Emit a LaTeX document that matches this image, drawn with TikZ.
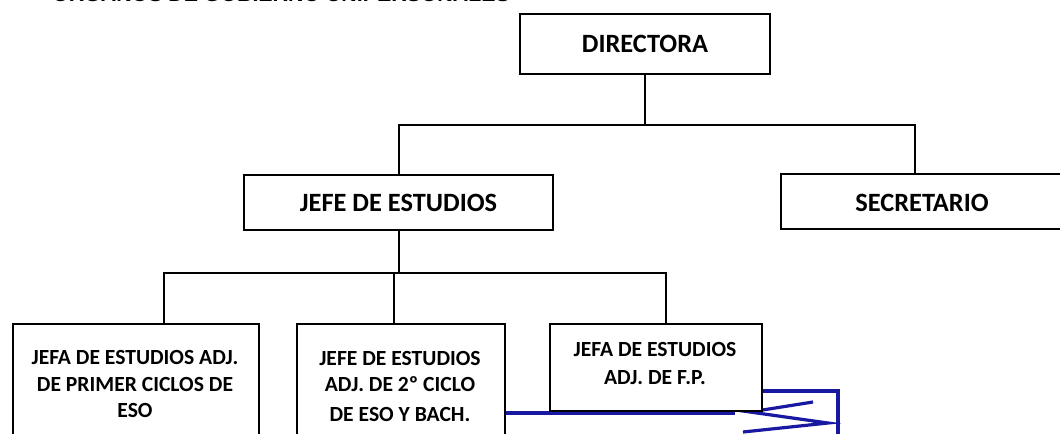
\documentclass[tikz,border=0pt]{standalone}
\usepackage{fontspec}
\setmainfont{Carlito}
\newfontfamily\titlefont{Liberation Sans}
\definecolor{navyline}{RGB}{24,24,160}
\tikzset{
  orgbox/.style={draw=black, fill=white, line width=1.5pt, inner sep=0pt, anchor=north west},
  bigtext/.style={font=\bfseries\fontsize{19.8}{24}\selectfont},
  smalltext/.style={font=\bfseries\fontsize{16.2}{20}\selectfont, align=center},
  link/.style={draw=black, line width=1.5pt},
  blueline/.style={draw=navyline, line width=2.4pt}
}
\begin{document}
\begin{tikzpicture}[x=0.75pt,y=-0.75pt]
\useasboundingbox (0,0) rectangle (1060,433);
\clip (0,0) rectangle (1060,433);
% title (cut off at the top, as in the reference)
\node[anchor=base west, inner sep=0pt, font=\titlefont\bfseries\fontsize{16}{19}\selectfont] (title) at (52,1.2) {ÓRGANOS DE GOBIERNO UNIPERSONALES};
% blue partial shape
\draw[blueline] (504,413) -- (735,413);
\draw[blueline] (762,391) -- (838,391) -- (838,445);
\draw[blueline] (813,402) -- (750,412) -- (828,423) -- (743,432);
% boxes
\node[orgbox, minimum width=187.5pt, minimum height=45pt] (dir) at (519,13) {};
\node[bigtext] (dirt) at (dir.center) {DIRECTORA};
\node[orgbox, minimum width=231.75pt, minimum height=41.25pt] (jefe) at (243,174) {};
\node[bigtext] (jefet) at (jefe.center) {JEFE DE ESTUDIOS};
\node[orgbox, minimum width=211.5pt, minimum height=41.25pt] (sec) at (780,173) {};
\node[bigtext] (sect) at ([yshift=-0.75pt]sec.center) {SECRETARIO};
\node[orgbox, minimum width=184.5pt, minimum height=97.5pt] (adj1) at (12,323) {};
\node[smalltext] (adj1t) at (135,384) {JEFA DE ESTUDIOS ADJ.\\DE PRIMER CICLOS DE\\ESO};
\node[orgbox, minimum width=156pt, minimum height=97.5pt] (adj2) at (296,323) {};
\node[smalltext] (adj2t) at (400,386) {JEFE DE ESTUDIOS\\ADJ. DE 2º CICLO\\[2pt]DE ESO Y BACH.};
\node[orgbox, minimum width=159pt, minimum height=65.25pt] (adj3) at (549,323) {};
\node[smalltext] (adj3t) at (655,363) {JEFA DE ESTUDIOS\\[1pt]ADJ. DE F.P.};
% connectors
\coordinate (bus1) at (0,125);
\coordinate (bus2) at (0,273);
\coordinate (secin) at ([xshift=-5.25pt]sec.north);
\draw[link] (dir.south) -- (dir.south |- bus1);
\draw[link] (jefe.north) -- (jefe.north |- bus1) -- (secin |- bus1) -- (secin);
\coordinate (in1) at ([xshift=21pt]adj1.north);
\coordinate (in2) at ([xshift=-5.25pt]adj2.north);
\coordinate (in3) at ([xshift=7.5pt]adj3.north);
\draw[link] (jefe.south) -- (jefe.south |- bus2);
\draw[link] (in1) -- (in1 |- bus2) -- (in3 |- bus2) -- (in3);
\draw[link] (in2 |- bus2) -- (in2);
\end{tikzpicture}
\end{document}
